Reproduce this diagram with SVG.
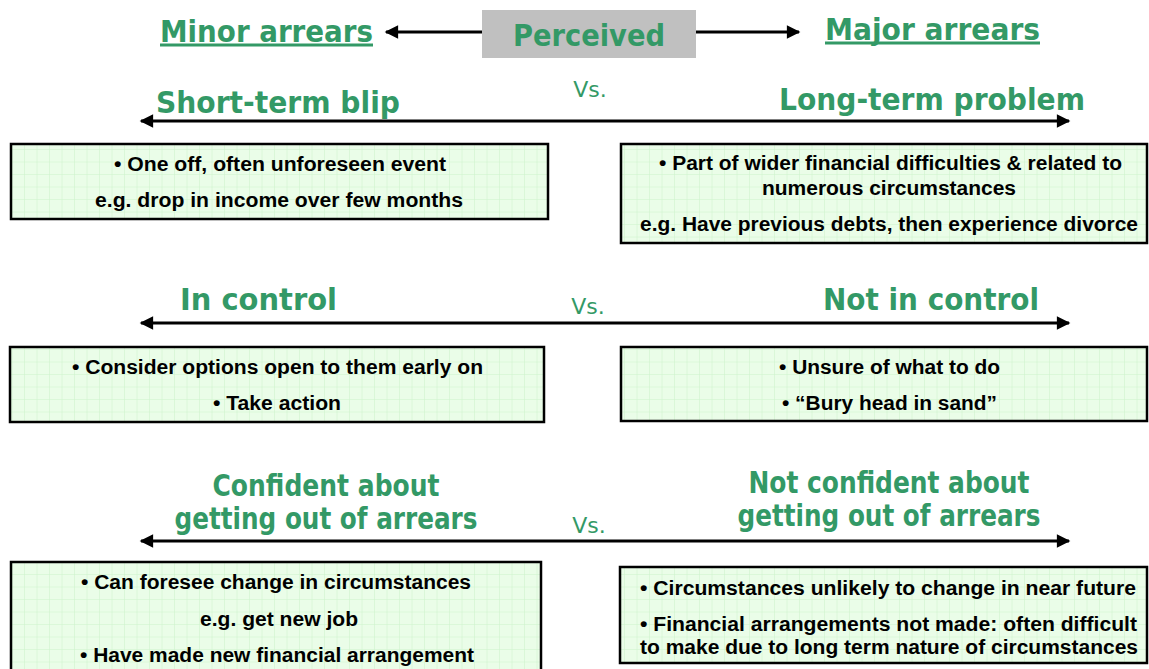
<svg xmlns="http://www.w3.org/2000/svg" width="1149" height="669" viewBox="0 0 1149 669">
<defs>
<pattern id="grid" width="12.5" height="12.5" patternUnits="userSpaceOnUse">
<rect width="12.5" height="12.5" fill="#eafde8"/>
<path d="M12.5 0V12.5M0 12.5H12.5" stroke="#cdf3cb" stroke-width="1" fill="none"/>
</pattern>
<marker id="ah" viewBox="0 0 10 10" refX="9" refY="5" markerWidth="5.5" markerHeight="4.5" orient="auto-start-reverse" markerUnits="strokeWidth">
<path d="M0 0L10 5L0 10z" fill="#000"/>
</marker>
</defs>
<style>
.h{font-family:"DejaVu Sans",Verdana,sans-serif;font-weight:bold;font-size:31px;fill:#339966;text-anchor:middle}
.vs{font-family:"DejaVu Sans",Verdana,sans-serif;font-size:22px;fill:#339966;text-anchor:middle}
.t{font-family:"Liberation Sans",Arial,sans-serif;font-weight:bold;font-size:19.5px;fill:#000;text-anchor:middle}
.box{fill:url(#grid);stroke:#000;stroke-width:2.5}
.ln{stroke:#000;stroke-width:3;fill:none;marker-end:url(#ah)}
.dl{stroke:#000;stroke-width:3;fill:none;marker-end:url(#ah);marker-start:url(#ah)}
.ul{stroke:#339966;stroke-width:3}
</style>
<g id="connectors">
<line class="ln" x1="482" y1="32" x2="386" y2="32"/>
<line class="ln" x1="696" y1="32" x2="799" y2="32"/>
<line class="dl" x1="141" y1="121" x2="1069" y2="121"/>
<line class="dl" x1="141" y1="323" x2="1069" y2="323"/>
<line class="dl" x1="141" y1="541" x2="1069" y2="541"/>
</g>
<g id="perceived">
<rect x="482" y="10" width="214" height="48" fill="#c0c0c0"/>
<text class="h" x="589" y="46" textLength="152" lengthAdjust="spacingAndGlyphs">Perceived</text>
</g>
<g id="minor">
<text class="h" x="266.5" y="42" textLength="213" lengthAdjust="spacingAndGlyphs">Minor arrears</text>
<line class="ul" x1="160" y1="45" x2="373" y2="45"/>
</g>
<g id="major">
<text class="h" x="932.5" y="40" textLength="215" lengthAdjust="spacingAndGlyphs">Major arrears</text>
<line class="ul" x1="825" y1="43" x2="1040" y2="43"/>
</g>
<text class="vs" x="590" y="97">Vs.</text>
<g id="short">
<text class="h" x="278" y="113" textLength="244" lengthAdjust="spacingAndGlyphs">Short-term blip</text>
</g>
<g id="long">
<text class="h" x="932" y="110" textLength="306" lengthAdjust="spacingAndGlyphs">Long-term problem</text>
</g>
<g id="box1">
<rect class="box" x="11" y="144" width="537" height="75"/>
<text class="t" x="280" y="171" textLength="332" lengthAdjust="spacingAndGlyphs">• One off, often unforeseen event</text>
<text class="t" x="279" y="207" textLength="368" lengthAdjust="spacingAndGlyphs">e.g. drop in income over few months</text>
</g>
<g id="box2">
<rect class="box" x="621" y="144" width="526" height="99"/>
<text class="t" x="890.5" y="170" textLength="463" lengthAdjust="spacingAndGlyphs">• Part of wider financial difficulties &amp; related to</text>
<text class="t" x="889" y="195" textLength="254" lengthAdjust="spacingAndGlyphs">numerous circumstances</text>
<text class="t" x="889" y="231" textLength="498" lengthAdjust="spacingAndGlyphs">e.g. Have previous debts, then experience divorce</text>
</g>
<g id="inctrl">
<text class="h" x="258.5" y="310" textLength="157" lengthAdjust="spacingAndGlyphs">In control</text>
</g>
<text class="vs" x="588" y="314">Vs.</text>
<g id="notctrl">
<text class="h" x="931" y="310" textLength="216" lengthAdjust="spacingAndGlyphs">Not in control</text>
</g>
<g id="box3">
<rect class="box" x="10" y="347" width="534" height="75"/>
<text class="t" x="277.5" y="374" textLength="411" lengthAdjust="spacingAndGlyphs">• Consider options open to them early on</text>
<text class="t" x="277" y="410" textLength="128" lengthAdjust="spacingAndGlyphs">• Take action</text>
</g>
<g id="box4">
<rect class="box" x="621" y="347" width="526" height="74"/>
<text class="t" x="889.5" y="374" textLength="221" lengthAdjust="spacingAndGlyphs">• Unsure of what to do</text>
<text class="t" x="889.5" y="410" textLength="215" lengthAdjust="spacingAndGlyphs">• “Bury head in sand”</text>
</g>
<g id="conf">
<text class="h" x="326" y="496" textLength="227" lengthAdjust="spacingAndGlyphs">Confident about</text>
<text class="h" x="326" y="529" textLength="303" lengthAdjust="spacingAndGlyphs">getting out of arrears</text>
</g>
<text class="vs" x="589" y="533">Vs.</text>
<g id="notconf">
<text class="h" x="889" y="493" textLength="281" lengthAdjust="spacingAndGlyphs">Not confident about</text>
<text class="h" x="889" y="526" textLength="303" lengthAdjust="spacingAndGlyphs">getting out of arrears</text>
</g>
<g id="box5">
<rect class="box" x="11" y="562" width="530" height="110"/>
<text class="t" x="276" y="589" textLength="390" lengthAdjust="spacingAndGlyphs">• Can foresee change in circumstances</text>
<text class="t" x="279" y="626" textLength="158" lengthAdjust="spacingAndGlyphs">e.g. get new job</text>
<text class="t" x="277" y="662" textLength="394" lengthAdjust="spacingAndGlyphs">• Have made new financial arrangement</text>
</g>
<g id="box6">
<rect class="box" x="620" y="567" width="527" height="96"/>
<text class="t" x="888" y="595" textLength="496" lengthAdjust="spacingAndGlyphs">• Circumstances unlikely to change in near future</text>
<text class="t" x="888.5" y="631" textLength="497" lengthAdjust="spacingAndGlyphs">• Financial arrangements not made: often difficult</text>
<text class="t" x="889" y="654" textLength="498" lengthAdjust="spacingAndGlyphs">to make due to long term nature of circumstances</text>
</g>
</svg>
